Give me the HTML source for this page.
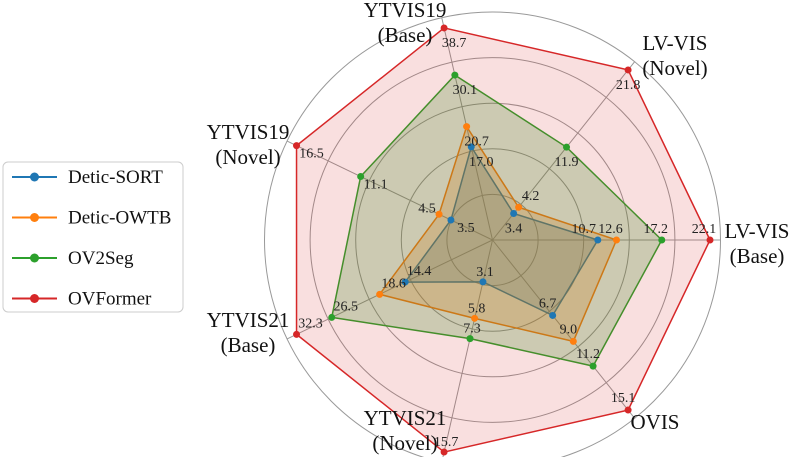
<!DOCTYPE html>
<html><head><meta charset="utf-8"><style>
body{margin:0;background:#fff;width:800px;height:457px;overflow:hidden;font-family:"Liberation Serif",serif}
svg text{font-family:"Liberation Serif",serif}
</style></head><body>
<svg id="chart" width="800" height="457" viewBox="0 0 800 457" xmlns="http://www.w3.org/2000/svg">
<g id="grid"></g>
<g id="series"></g>
<g id="labels"></g>
<g id="legend">
<rect x="3" y="162" width="180" height="150" rx="5" fill="#fff" stroke="#ccc" stroke-width="1"/>
</g>
</svg>
<script>
const categories = ["LV-VIS\n(Base)","LV-VIS\n(Novel)","YTVIS19\n(Base)","YTVIS19\n(Novel)","YTVIS21\n(Base)","YTVIS21\n(Novel)","OVIS"];
const seriesNames = ["Detic-SORT","Detic-OWTB","OV2Seg","OVFormer"];
const seriesColors = ["#1f77b4","#ff7f0e","#2ca02c","#d62728"];
const deticSort = [10.7,3.4,17.0,3.5,14.4,3.1,6.7];
const deticOwtb = [12.6,4.2,20.7,4.5,18.6,5.8,9.0];
const ov2seg = [17.2,11.9,30.1,11.1,26.5,7.3,11.2];
const ovformer = [22.1,21.8,38.7,16.5,32.3,15.7,15.1];
const allSeries = [deticSort,deticOwtb,ov2seg,ovformer];

const NS="http://www.w3.org/2000/svg";
const cx=492.5, cy=240, R=217.5, RG=228;
const axMax = categories.map((c,i)=>Math.max(...allSeries.map(s=>s[i])));
const labelOff=[[-6,-12],[0,14],[10,14],[15,7],[14,-12],[2,-11],[-5,-13]];
const labelOverride={"1-1":[12,-12],"1-3":[-12,-7],"0-0":[-14,-12]};
function ang(i){return i*2*Math.PI/categories.length;}
function pt(i,v){const r=v/axMax[i]*R;return [cx+r*Math.cos(ang(i)), cy-r*Math.sin(ang(i))];}
function mk(tag,attrs,parent){const e=document.createElementNS(NS,tag);for(const k in attrs)e.setAttribute(k,attrs[k]);parent.appendChild(e);return e;}

const grid=document.getElementById('grid');
for(let k=1;k<=5;k++){
  const c=mk('circle',{cx,cy,r:RG*k/5,fill:'none',stroke:'#999','stroke-width':1},grid);
  
  
}
categories.forEach((c,i)=>{
  const l=mk('line',{x1:cx,y1:cy,x2:cx+RG*Math.cos(ang(i)),y2:cy-RG*Math.sin(ang(i)),stroke:'#999','stroke-width':1},grid);
  
  
});

const sg=document.getElementById('series');
const fillOp=[0.25,0.25,0.25,0.15];
allSeries.forEach((s,si)=>{
  const pts=s.map((v,i)=>pt(i,v));
  const g=mk('g',{},sg);
  
  
  const p=mk('polygon',{points:pts.map(p=>p.join(',')).join(' '),fill:seriesColors[si],'fill-opacity':fillOp[si],stroke:seriesColors[si],'stroke-width':1.5},g);
  
  
});
allSeries.forEach((s,si)=>{
  s.forEach((v,i)=>{
    const [x,y]=pt(i,v);
    const c=mk('circle',{cx:x,cy:y,r:3.5,fill:seriesColors[si]},sg);
    
    
  });
});
allSeries.forEach((s,si)=>{
  s.forEach((v,i)=>{
    const [x,y]=pt(i,v);
    const o=labelOverride[si+'-'+i]||labelOff[i];
    const t=mk('text',{x:x+o[0],y:y+o[1]+5,'font-size':14,'text-anchor':'middle',fill:'#222'},sg);
    t.textContent=v.toFixed(1);
    
    
  });
});

const lg=document.getElementById('labels');
const labelPos=[[757,238],[675,50],[405,17],[248,139],[248,327],[405,425],[655,429]];
categories.forEach((c,i)=>{
  const t=mk('text',{x:labelPos[i][0],y:labelPos[i][1],'font-size':21,'text-anchor':'middle',fill:'#111'},lg);
  
  
  c.split('\n').forEach((ln,j)=>{const ts=mk('tspan',{x:labelPos[i][0],dy:j?25:0},t);ts.textContent=ln;});
});

const leg=document.getElementById('legend');
seriesNames.forEach((n,i)=>{
  const y=177+i*40.5;
  const g=mk('g',{},leg);
  
  
  mk('line',{x1:12,y1:y,x2:57,y2:y,stroke:seriesColors[i],'stroke-width':2},g);
  mk('circle',{cx:34.5,cy:y,r:4.5,fill:seriesColors[i]},g);
  const t=mk('text',{x:68,y:y+6,'font-size':19,fill:'#111'},g);
  t.textContent=n;
});
</script>
</body></html>
